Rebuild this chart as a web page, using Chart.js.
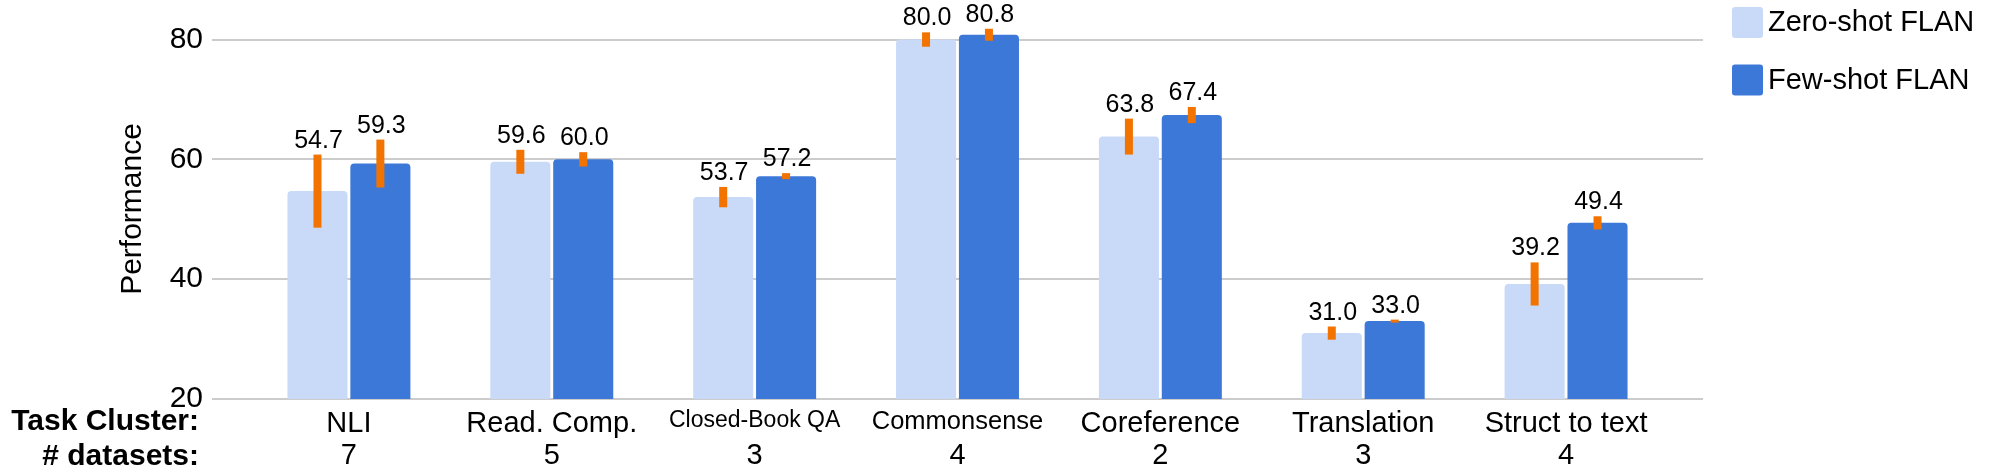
<!DOCTYPE html>
<html>
<head>
<meta charset="utf-8">
<script src="https://cdn.jsdelivr.net/npm/chart.js@4.4.1/dist/chart.umd.min.js"></script>
<style>
  html, body { margin: 0; padding: 0; background: #fff; }
  #wrap { width: 2000px; height: 473px; }
</style>
</head>
<body>
<div id="wrap"><canvas id="chart" width="2000" height="473"></canvas></div>
<script>
const categories = ['NLI', 'Read. Comp.', 'Closed-Book QA', 'Commonsense', 'Coreference', 'Translation', 'Struct to text']
const datasetCounts = ['7', '5', '3', '4', '2', '3', '4']
const zeroShot = [54.7, 59.6, 53.7, 80.0, 63.8, 31.0, 39.2]
const fewShot = [59.3, 60.0, 57.2, 80.8, 67.4, 33.0, 49.4]
// half-length of the orange error bars
const zeroShotErr = [6.1, 2.0, 1.7, 1.2, 3.0, 1.1, 3.6]
const fewShotErr = [4.0, 1.2, 0.5, 1.0, 1.35, 0.25, 1.1]
const yTicks = [20, 40, 60, 80]

const FONT = '"Liberation Sans", Arial, sans-serif'
const ERR_COLOR = '#f27300'
const LABEL_MAX_WIDTH = 172

// shrink long category names so they fit under their group
const measureCtx = document.createElement('canvas').getContext('2d')
const fitSize = (text, size) => {
  measureCtx.font = `${size}px ${FONT}`
  const w = measureCtx.measureText(text).width
  return w > LABEL_MAX_WIDTH ? Math.floor(size * LABEL_MAX_WIDTH / w * 10) / 10 : size
}

const toPoints = values => values.map((v, i) => ({ x: i, y: v }))

// no extra room for half tick labels at the ends of the axes
const noEdgePadding = s => {
  s.paddingTop = 0
  s.paddingBottom = 0
  s.paddingLeft = 0
  s.paddingRight = 0
}

const errorBars = {
  id: 'errorBars',
  afterDatasetsDraw(chart) {
    const { ctx } = chart
    const yScale = chart.scales.y
    chart.data.datasets.forEach((ds, i) => {
      const meta = chart.getDatasetMeta(i)
      meta.data.forEach((bar, j) => {
        const v = ds.data[j].y
        const err = ds.errors[j]
        const top = yScale.getPixelForValue(v + err)
        const bottom = yScale.getPixelForValue(v - err)
        ctx.save()
        ctx.fillStyle = ERR_COLOR
        ctx.fillRect(bar.x - 4, top, 8, bottom - top)
        ctx.fillStyle = '#000'
        ctx.font = `25px ${FONT}`
        ctx.textAlign = 'center'
        ctx.textBaseline = 'alphabetic'
        ctx.fillText(v.toFixed(1), bar.x + 1, Math.min(top, bar.y) - 7)
        ctx.restore()
      })
    })
  },
}

const sideLabels = {
  id: 'sideLabels',
  afterDraw(chart) {
    const { ctx } = chart
    ctx.save()
    ctx.fillStyle = '#000'
    ctx.font = `bold 30px ${FONT}`
    ctx.textAlign = 'right'
    ctx.textBaseline = 'alphabetic'
    ctx.fillText('Task Cluster:', 199, 430)
    ctx.fillText('# datasets:', 199, 465)

    // y axis title
    ctx.save()
    ctx.translate(141, 209)
    ctx.rotate(-Math.PI / 2)
    ctx.font = `30px ${FONT}`
    ctx.textAlign = 'center'
    ctx.fillText('Performance', 0, 0)
    ctx.restore()

    // legend
    ctx.font = `29px ${FONT}`
    ctx.textAlign = 'left'
    ctx.textBaseline = 'middle'
    chart.data.datasets.forEach((ds, i) => {
      const y = 7 + i * 57.5
      ctx.fillStyle = ds.backgroundColor
      ctx.beginPath()
      ctx.roundRect(1732, y, 31, 31, 3)
      ctx.fill()
      ctx.fillStyle = '#000'
      ctx.fillText(ds.label, 1768, y + 16)
    })
    ctx.restore()
  },
}

const bottomAxis = (labels, weight, height, padding, font) => ({
  type: 'linear',
  position: 'bottom',
  offset: false,
  weight,
  min: -0.675,
  max: 6.675,
  grid: { display: false, drawTicks: false, offset: false },
  border: { display: false },
  afterBuildTicks: s => { s.ticks = labels.map((_, i) => ({ value: i })) },
  afterFit: s => {
    s.height = height
    noEdgePadding(s)
  },
  ticks: {
    autoSkip: false,
    maxRotation: 0,
    minRotation: 0,
    padding,
    color: '#000',
    font,
    callback: v => labels[v],
  },
})

new Chart(document.getElementById('chart'), {
  type: 'bar',
  data: {
    datasets: [
      {
        label: 'Zero-shot FLAN',
        data: toPoints(zeroShot),
        errors: zeroShotErr,
        backgroundColor: '#c9daf8',
        borderRadius: 4,
        borderSkipped: 'start',
        categoryPercentage: 0.62,
        barPercentage: 0.955,
      },
      {
        label: 'Few-shot FLAN',
        data: toPoints(fewShot),
        errors: fewShotErr,
        backgroundColor: '#3c78d8',
        borderRadius: 4,
        borderSkipped: 'start',
        categoryPercentage: 0.62,
        barPercentage: 0.955,
      },
    ],
  },
  options: {
    responsive: false,
    animation: false,
    devicePixelRatio: 1,
    layout: { padding: { top: 0, right: 297, bottom: 0, left: 0 } },
    plugins: {
      legend: { display: false },
      tooltip: { enabled: false },
    },
    scales: {
      x: bottomAxis(categories, 0, 40, 8,
        ctx => ({ family: FONT, size: fitSize(categories[ctx.index] || '', 29) })),
      x2: bottomAxis(datasetCounts, 1, 34, 0, { family: FONT, size: 29 }),
      y: {
        min: 20,
        max: 86.6,
        afterBuildTicks: s => { s.ticks = yTicks.map(v => ({ value: v })) },
        afterFit: s => {
          s.width = 212
          noEdgePadding(s)
        },
        grid: { color: '#cccccc', lineWidth: 2, drawTicks: false },
        border: { display: false },
        ticks: { padding: 9, color: '#000', font: { family: FONT, size: 30 } },
      },
    },
  },
  plugins: [errorBars, sideLabels],
})
</script>
</body>
</html>
